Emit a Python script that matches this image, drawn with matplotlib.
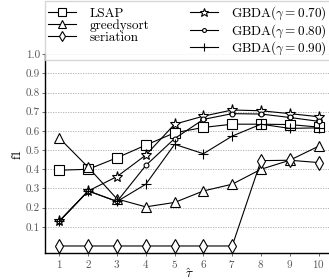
import matplotlib
matplotlib.use("Agg")
import matplotlib.pyplot as plt
from matplotlib.ticker import FormatStrFormatter

plt.rcParams["font.family"] = "cmr10"
plt.rcParams["mathtext.fontset"] = "cm"
plt.rcParams["axes.formatter.use_mathtext"] = True

tau = [1, 2, 3, 4, 5, 6, 7, 8, 9, 10]

lsap = [0.395, 0.40, 0.46, 0.526, 0.59, 0.618, 0.635, 0.635, 0.633, 0.62]
greedysort = [0.562, 0.41, 0.245, 0.204, 0.227, 0.287, 0.322, 0.40, 0.447, 0.52]
seriation = [0.0, 0.0, 0.0, 0.0, 0.0, 0.0, 0.0, 0.445, 0.447, 0.435]
gbda_70 = [0.13, 0.287, 0.362, 0.474, 0.635, 0.677, 0.709, 0.705, 0.69, 0.674]
gbda_80 = [0.13, 0.287, 0.232, 0.42, 0.56, 0.66, 0.69, 0.688, 0.67, 0.65]
gbda_90 = [0.13, 0.287, 0.232, 0.322, 0.53, 0.481, 0.573, 0.635, 0.613, 0.616]

yticks = [0.1, 0.2, 0.3, 0.4, 0.5, 0.6, 0.7, 0.8, 0.9, 1.0]

fig = plt.figure(figsize=(3.29, 2.80), dpi=100)
ax = fig.add_axes([0.137, 0.0975, 0.875, 0.709])

series = [
    (lsap, "s", 6.5, "LSAP"),
    (greedysort, "^", 6.5, "greedysort"),
    (seriation, "d", 7, "seriation"),
    (gbda_70, "*", 8, r"GBDA($\gamma = 0.70$)"),
    (gbda_80, "o", 3.5, r"GBDA($\gamma = 0.80$)"),
    (gbda_90, "+", 7, r"GBDA($\gamma = 0.90$)"),
]

for values, marker, size, label in series:
    ax.plot(
        tau, values,
        color="black",
        linewidth=0.8,
        marker=marker,
        markersize=size,
        markerfacecolor="white",
        markeredgecolor="black",
        markeredgewidth=0.8,
        label=label
    )

ax.set_xlim(0.5, 10.5)
ax.set_ylim(-0.035, 1.0)
ax.set_xticks(tau)
ax.set_yticks(yticks)
ax.yaxis.set_major_formatter(FormatStrFormatter("%.1f"))
ax.tick_params(labelsize=8, length=2, width=0.6, pad=1.5,
               colors="#555555", labelcolor="#555555")
ax.grid(axis="y", linestyle=(0, (1.5, 1.5)), color="#aaaaaa", linewidth=0.6)
ax.set_axisbelow(True)

for side in ["top", "right"]:
    ax.spines[side].set_visible(False)
for side in ["left", "bottom"]:
    ax.spines[side].set_linewidth(1.0)

ax.set_ylabel("f1", fontsize=9, labelpad=2)
ax.set_xlabel(r"$\hat{\tau}$", fontsize=9.5, labelpad=-2)

handles, labels = ax.get_legend_handles_labels()
fig.legend(
    handles, labels,
    loc="upper left",
    bbox_to_anchor=(0.137, 0.995),
    borderaxespad=0,
    ncol=2,
    fontsize=9.5,
    markerscale=0.8,
    frameon=True,
    fancybox=False,
    edgecolor="#cccccc",
    handlelength=2.1,
    handletextpad=1.0,
    columnspacing=3.1,
    labelspacing=-0.05,
    borderpad=0.25
)

fig.savefig("out.png", dpi=100)
